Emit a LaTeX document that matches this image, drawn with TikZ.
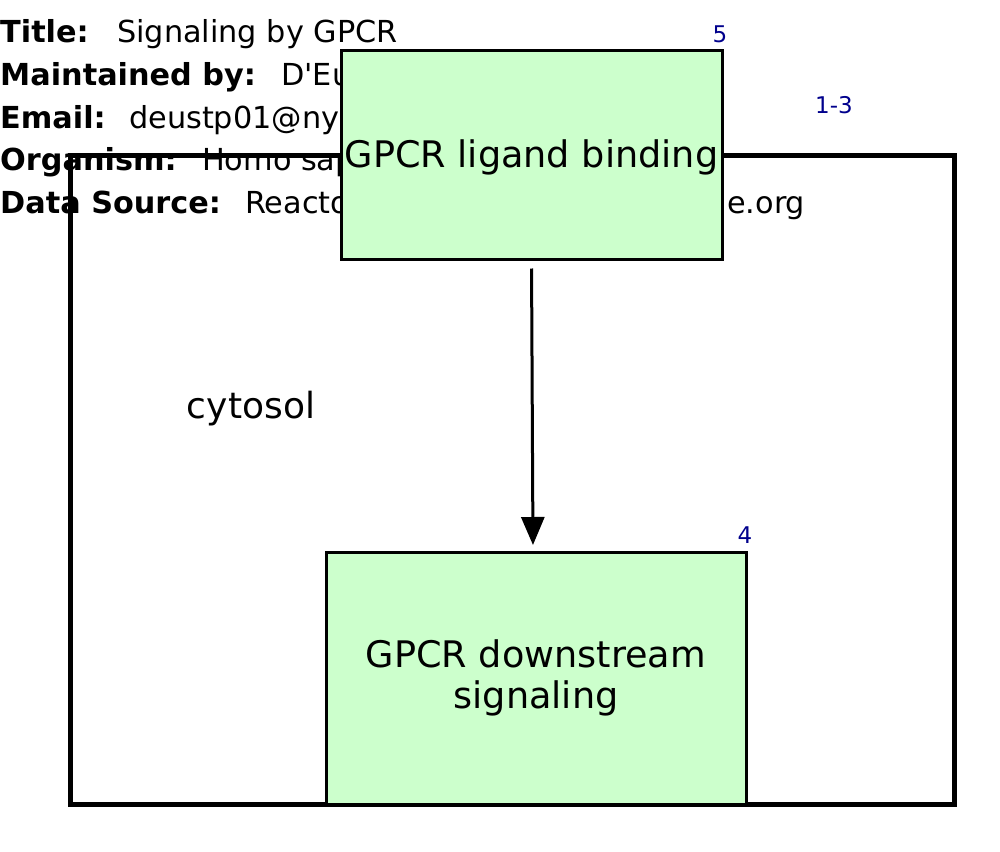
\documentclass[tikz,border=0pt]{standalone}
\usepackage{fontspec}
\setmainfont{DejaVu Sans}[Ligatures=TeXOff]
\usetikzlibrary{arrows.meta}
\definecolor{boxfill}{HTML}{CCFFCC}
\definecolor{numblue}{HTML}{00008C}
\tikzset{
  hdrkey/.style={anchor=base west, inner sep=0pt, font=\fontsize{30.3}{36}\selectfont\bfseries},
  hdrval/.style={anchor=base west, inner sep=0pt, font=\fontsize{30.3}{36}\selectfont},
  pathbox/.style={draw=black, line width=3pt, fill=boxfill, inner sep=0pt},
  boxlabel/.style={inner sep=0pt, font=\fontsize{36.6}{41}\selectfont, align=center},
  numlabel/.style={anchor=base, inner sep=0pt, text=numblue, font=\fontsize{23}{27}\selectfont},
  compartment/.style={draw=black, line width=5pt},
  flow/.style={draw=black, line width=3pt, -{Triangle[length=28pt,width=23pt]}}
}
\begin{document}
\begin{tikzpicture}[x=1pt,y=-1pt]
\useasboundingbox (0,0) rectangle (1000,851);
% header
\node[hdrkey] (k1) at (0,43) {Title:};
\node[hdrval] (v1) at (117,43) {Signaling by GPCR};
\node[hdrkey] (k2) at (0,85.5) {Maintained by:};
\node[hdrval] (v2) at (281,85.5) {D'Eustachio};
\node[hdrkey] (k3) at (0,128) {Email:};
\node[hdrval] (v3) at (129,128) {deustp01@nyumc.org};
\node[hdrkey] (k4) at (0,170.5) {Organism:};
\node[hdrval] (v4) at (202,170.5) {Homo sapiens};
\node[hdrkey] (k5) at (0,213) {Data Source:};
\node[hdrval] (v5) at (245,213) {Reactome - http://www.reactome.org};
% compartment
\draw[compartment] (70,155) rectangle (954,804);
\node[anchor=base, inner sep=0pt, font=\fontsize{36}{40}\selectfont] (cyto) at (251,418) {cytosol};
% pathway boxes
\node[pathbox, minimum width=381pt, minimum height=208pt] (b1) at (531.5,155) {};
\node[boxlabel, anchor=base] (l1) at (531.5,167) {GPCR ligand binding};
\node[pathbox, minimum width=420pt, minimum height=252pt] (b2) at (536,678) {};
\node[boxlabel] (l2) at (536,678) {GPCR downstream\\signaling};
\coordinate (b2in) at (533,552);
% numbers
\node[numlabel] (n5) at (720,43) {5};
\node[numlabel] (n13) at (834,113) {1-3};
\node[numlabel] (n4) at (745,543) {4};
% arrow
\draw[flow, shorten <=8pt, shorten >=7pt] (b1.south) -- (b2in);
\end{tikzpicture}
\end{document}
